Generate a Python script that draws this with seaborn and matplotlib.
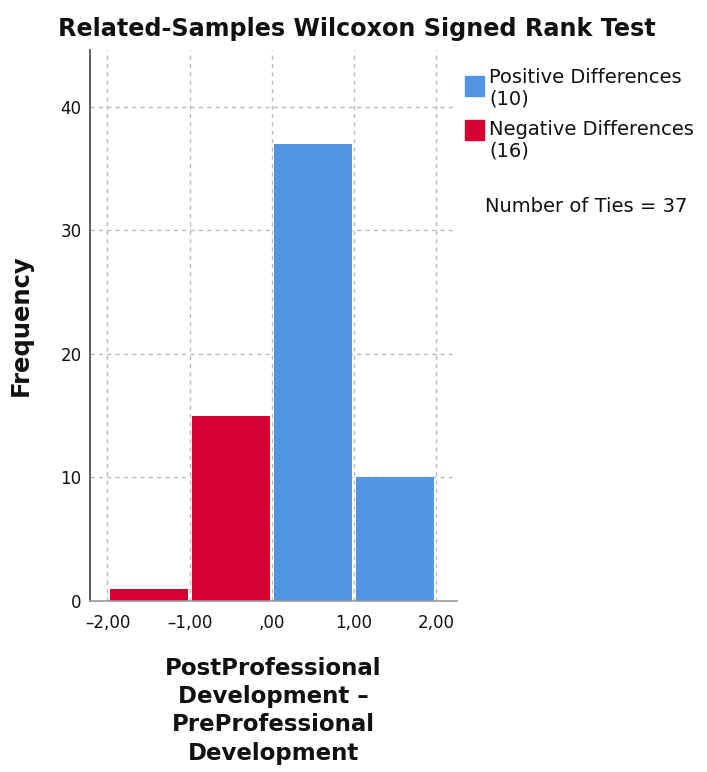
import matplotlib
matplotlib.use("Agg")
import matplotlib.pyplot as plt
import seaborn as sns
import pandas as pd
from matplotlib.ticker import FixedLocator, FuncFormatter
from matplotlib.patches import Rectangle

bin_edges = [-2.0, -1.0, 0.0, 1.0, 2.0]
bin_centers = [-1.5, -0.5, 0.5, 1.5]
frequencies = [1, 15, 37, 10]
groups = ["Negative", "Negative", "Positive", "Positive"]
colors = {"Positive": "#5495E3", "Negative": "#D50032"}
x_ticks = [-2, -1, 0, 1, 2]
y_ticks = [0, 10, 20, 30, 40]

df = pd.DataFrame({"diff": bin_centers, "freq": frequencies, "group": groups})

sns.set_style("white")
plt.rcParams['font.family'] = ['DejaVu Sans']
plt.rcParams['text.color'] = '#111111'

fig = plt.figure(figsize=(7.07, 7.72), dpi=100)
ax = fig.add_axes([0.127, 0.2215, 0.519, 0.7135])

ax.set_axisbelow(True)
ax.grid(True, color="#BBBBBB", linestyle=(0, (3, 3)), linewidth=1.0)

sns.histplot(data=df, x="diff", weights="freq", hue="group", bins=bin_edges,
             palette=colors, alpha=1, shrink=0.95, edgecolor="none",
             legend=False, ax=ax)

ax.set_xlim(-2.215, 2.25)
ax.set_ylim(0, 44.6)
ax.xaxis.set_major_locator(FixedLocator(x_ticks))
ax.yaxis.set_major_locator(FixedLocator(y_ticks))

def fmt(v, pos):
    if v == 0:
        return ",00"
    s = f"{v:.2f}".replace(".", ",").replace("-", "\u2013")
    return s
ax.xaxis.set_major_formatter(FuncFormatter(fmt))
ax.tick_params(axis="both", labelsize=12, colors="#111111", length=0, pad=6)
ax.tick_params(axis="x", pad=9)

for s in ["top", "right"]:
    ax.spines[s].set_visible(False)
ax.spines["left"].set_color("#444444")
ax.spines["left"].set_linewidth(1.2)
ax.spines["bottom"].set_color("#999999")
ax.spines["bottom"].set_linewidth(1.2)

ax.set_ylabel("Frequency", fontsize=17.5, fontweight="bold", labelpad=20,
              color="#111111")
ax.set_xlabel("PostProfessional\nDevelopment \u2013\nPreProfessional\nDevelopment",
              fontsize=16.5, fontweight="bold", labelpad=18, linespacing=1.3,
              color="#111111")

fig.text(0.505, 0.963, "Related-Samples Wilcoxon Signed Rank Test",
         ha="center", va="center", fontsize=17.2, fontweight="bold")

# legend
fig.patches.append(Rectangle((465/707, 1-96/772), 19/707, 20/772,
                             transform=fig.transFigure, color=colors["Positive"]))
fig.text(489/707, 1-88/772, "Positive Differences\n(10)", fontsize=14,
         va="center", ha="left", linespacing=1.15)
fig.patches.append(Rectangle((465/707, 1-140/772), 19/707, 20/772,
                             transform=fig.transFigure, color=colors["Negative"]))
fig.text(489/707, 1-140/772, "Negative Differences\n(16)", fontsize=14,
         va="center", ha="left", linespacing=1.15)
fig.text(485/707, 1-206/772, "Number of Ties = 37", fontsize=14,
         va="center", ha="left")

fig.savefig("out.png", dpi=100)
